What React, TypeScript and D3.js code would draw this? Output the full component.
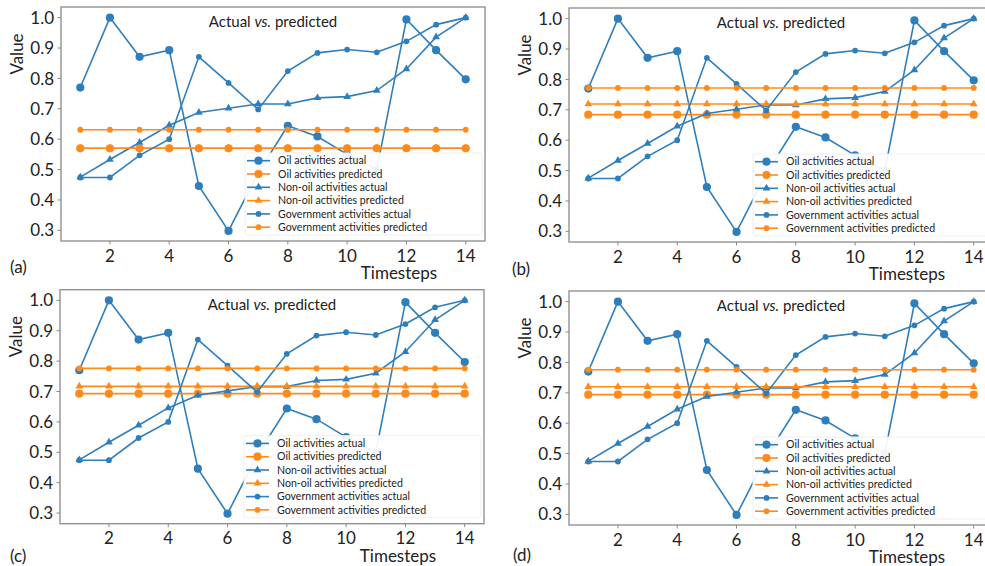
import React, { useEffect, useRef } from 'react';
import * as d3 from 'd3';

// timesteps on the x axis
const timesteps = [1, 2, 3, 4, 5, 6, 7, 8, 9, 10, 11, 12, 13, 14];
const xTicks = [2, 4, 6, 8, 10, 12, 14];
const yTicks = [0.3, 0.4, 0.5, 0.6, 0.7, 0.8, 0.9, 1.0];

// actual values (same in every panel)
const oilActual = [0.77, 1.0, 0.871, 0.893, 0.446, 0.298, 0.49, 0.644, 0.609, 0.55, 0.5, 0.994, 0.893, 0.797];
const nonOilActual = [0.475, 0.533, 0.589, 0.646, 0.688, 0.702, 0.716, 0.716, 0.736, 0.74, 0.76, 0.831, 0.936, 1.0];
const govActual = [0.474, 0.474, 0.547, 0.6, 0.871, 0.785, 0.698, 0.824, 0.884, 0.895, 0.886, 0.922, 0.977, 1.0];

// predicted values, one set per panel
const oilPredA = [0.57, 0.57, 0.57, 0.57, 0.57, 0.57, 0.57, 0.57, 0.57, 0.57, 0.57, 0.57, 0.57, 0.57];
const nonOilPredA = [0.57, 0.57, 0.57, 0.57, 0.57, 0.57, 0.57, 0.57, 0.57, 0.57, 0.57, 0.57, 0.57, 0.57];
const govPredA = [0.631, 0.631, 0.631, 0.631, 0.631, 0.631, 0.631, 0.631, 0.631, 0.631, 0.631, 0.631, 0.631, 0.631];

const oilPredB = [0.684, 0.684, 0.684, 0.684, 0.684, 0.684, 0.684, 0.684, 0.684, 0.684, 0.684, 0.684, 0.684, 0.684];
const nonOilPredB = [0.719, 0.719, 0.719, 0.719, 0.719, 0.719, 0.719, 0.719, 0.719, 0.719, 0.719, 0.719, 0.719, 0.719];
const govPredB = [0.772, 0.772, 0.772, 0.772, 0.772, 0.772, 0.772, 0.772, 0.772, 0.772, 0.772, 0.772, 0.772, 0.772];

const oilPredC = [0.693, 0.693, 0.693, 0.693, 0.693, 0.693, 0.693, 0.693, 0.693, 0.693, 0.693, 0.693, 0.693, 0.693];
const nonOilPredC = [0.717, 0.717, 0.717, 0.717, 0.717, 0.717, 0.717, 0.717, 0.717, 0.717, 0.717, 0.717, 0.717, 0.717];
const govPredC = [0.776, 0.776, 0.776, 0.776, 0.776, 0.776, 0.776, 0.776, 0.776, 0.776, 0.776, 0.776, 0.776, 0.776];

const oilPredD = [0.694, 0.694, 0.694, 0.694, 0.694, 0.694, 0.694, 0.694, 0.694, 0.694, 0.694, 0.694, 0.694, 0.694];
const nonOilPredD = [0.72, 0.72, 0.72, 0.72, 0.72, 0.72, 0.72, 0.72, 0.72, 0.72, 0.72, 0.72, 0.72, 0.72];
const govPredD = [0.776, 0.776, 0.776, 0.776, 0.776, 0.776, 0.776, 0.776, 0.776, 0.776, 0.776, 0.776, 0.776, 0.776];

const legendLabels = [
  'Oil activities actual',
  'Oil activities predicted',
  'Non-oil activities actual',
  'Non-oil activities predicted',
  'Government activities actual',
  'Government activities predicted',
];

const BLUE = '#2f7ebc';
const ORANGE = '#ff8a1c';
const FONT = 'Lato, "Open Sans", sans-serif';

const W = 985;
const H = 566;
const AX_W = 424;
const AX_H = 234;

// marker kinds per series, in legend order
const kinds = ['big', 'big', 'tri', 'tri', 'small', 'small'];
const colors = [BLUE, ORANGE, BLUE, ORANGE, BLUE, ORANGE];

const panels = [
  { tag: '(a)', left: 61, top: 7, tagDx: -51, tagDy: 32, series: [oilActual, oilPredA, nonOilActual, nonOilPredA, govActual, govPredA] },
  { tag: '(b)', left: 569, top: 8, tagDx: -57, tagDy: 33, series: [oilActual, oilPredB, nonOilActual, nonOilPredB, govActual, govPredB] },
  { tag: '(c)', left: 60, top: 289.7, tagDx: -50, tagDy: 38, series: [oilActual, oilPredC, nonOilActual, nonOilPredC, govActual, govPredC] },
  { tag: '(d)', left: 569, top: 291, tagDx: -56, tagDy: 36, series: [oilActual, oilPredD, nonOilActual, nonOilPredD, govActual, govPredD] },
];

function drawMarker(g, kind, cx, cy, color) {
  if (kind === 'tri') {
    g.append('path')
      .attr('d', d3.symbol().type(d3.symbolTriangle).size(26)())
      .attr('transform', `translate(${cx},${cy})`)
      .attr('fill', color);
  } else {
    g.append('circle')
      .attr('cx', cx)
      .attr('cy', cy)
      .attr('r', kind === 'big' ? 4.1 : 2.9)
      .attr('fill', color);
  }
}

function drawPanel(svg, p) {
  const x = d3.scaleLinear().domain([0.35, 14.65]).range([0, AX_W]);
  const y = d3.scaleLinear().domain([0.265, 1.035]).range([AX_H, 0]);

  const g = svg.append('g').attr('transform', `translate(${p.left},${p.top})`);

  // lines + markers
  const line = d3.line<number>()
    .x((d, i) => x(timesteps[i]))
    .y(d => y(d));

  p.series.forEach((vals, si) => {
    g.append('path')
      .datum(vals)
      .attr('fill', 'none')
      .attr('stroke', colors[si])
      .attr('stroke-width', 1.6)
      .attr('d', line);
    const mg = g.append('g');
    vals.forEach((v, i) => drawMarker(mg, kinds[si], x(timesteps[i]), y(v), colors[si]));
  });

  // frame
  g.append('rect')
    .attr('x', 0)
    .attr('y', 0)
    .attr('width', AX_W)
    .attr('height', AX_H)
    .attr('fill', 'none')
    .attr('stroke', '#8a8a8a')
    .attr('stroke-width', 1.3);

  // x ticks
  xTicks.forEach(t => {
    g.append('line')
      .attr('x1', x(t)).attr('x2', x(t))
      .attr('y1', AX_H).attr('y2', AX_H + 3.5)
      .attr('stroke', '#8a8a8a');
    g.append('text')
      .attr('x', x(t))
      .attr('y', AX_H + 20.5)
      .attr('text-anchor', 'middle')
      .attr('font-size', 17)
      .attr('fill', '#222')
      .text(String(t));
  });

  // y ticks
  yTicks.forEach(t => {
    g.append('line')
      .attr('x1', 0).attr('x2', -3.5)
      .attr('y1', y(t)).attr('y2', y(t))
      .attr('stroke', '#8a8a8a');
    g.append('text')
      .attr('x', -7)
      .attr('y', y(t))
      .attr('dy', '0.36em')
      .attr('text-anchor', 'end')
      .attr('font-size', 17)
      .attr('fill', '#222')
      .text(t.toFixed(1));
  });

  // title
  const title = g.append('text')
    .attr('x', AX_W / 2)
    .attr('y', 20)
    .attr('text-anchor', 'middle')
    .attr('font-size', 15)
    .attr('fill', '#222');
  title.append('tspan').text('Actual ');
  title.append('tspan').attr('font-style', 'italic').text('vs.');
  title.append('tspan').text(' predicted');

  // axis labels
  g.append('text')
    .attr('transform', `translate(${-38},${47}) rotate(-90)`)
    .attr('text-anchor', 'middle')
    .attr('font-size', 17)
    .attr('fill', '#222')
    .text('Value');

  g.append('text')
    .attr('x', 338)
    .attr('y', AX_H + 38)
    .attr('text-anchor', 'middle')
    .attr('font-size', 17)
    .attr('fill', '#222')
    .text('Timesteps');

  g.append('text')
    .attr('x', p.tagDx)
    .attr('y', AX_H + p.tagDy)
    .attr('font-size', 17)
    .attr('fill', '#222')
    .text(p.tag);

  // legend
  const lg = g.append('g').attr('transform', 'translate(184,146)');
  lg.append('rect')
    .attr('width', 237)
    .attr('height', 82)
    .attr('rx', 2)
    .attr('fill', '#fff')
    .attr('fill-opacity', 0.92)
    .attr('stroke', '#f0f0f0');
  legendLabels.forEach((label, i) => {
    const ry = 7.7 + i * 13.3;
    lg.append('line')
      .attr('x1', 2).attr('x2', 25)
      .attr('y1', ry).attr('y2', ry)
      .attr('stroke', colors[i])
      .attr('stroke-width', 1.6);
    drawMarker(lg, kinds[i], 13.5, ry, colors[i]);
    lg.append('text')
      .attr('x', 33)
      .attr('y', ry)
      .attr('dy', '0.35em')
      .attr('font-size', 10.6)
      .attr('fill', '#222')
      .text(label);
  });
}

export default function App() {
  const ref = useRef<SVGSVGElement>(null);

  useEffect(() => {
    const svg = d3.select(ref.current);
    svg.selectAll('*').remove();
    svg.attr('font-family', FONT);
    panels.forEach(p => drawPanel(svg, p));
    return () => {
      svg.selectAll('*').remove();
    };
  }, []);

  return (
    <svg
      ref={ref}
      width={W}
      height={H}
      style={{ position: 'absolute', left: 0, top: 0, background: '#fff' }}
    />
  );
}
